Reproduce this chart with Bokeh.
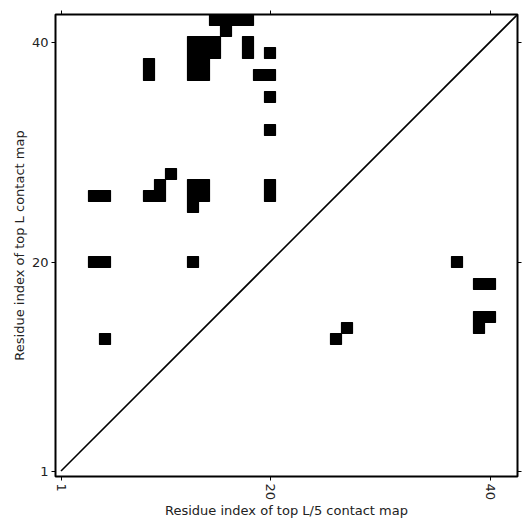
import math
from bokeh.plotting import figure
from bokeh.models import Range1d, LinearAxis, FixedTicker
from bokeh.embed import file_html
from bokeh.resources import INLINE

# contact cells (x residue, y residue)
contact_x = [15, 16, 17, 18, 16, 13, 14, 15, 13, 14, 15, 13, 14, 13, 14, 18, 18, 20,
             9, 9, 19, 20, 20, 20, 11, 10, 9, 10, 4, 5, 13, 13, 14, 14, 13, 20, 20,
             4, 5, 13, 5,
             37, 39, 40, 39, 40, 39, 27, 26]
contact_y = [42, 42, 42, 42, 41, 40, 40, 40, 39, 39, 39, 38, 38, 37, 37, 40, 39, 39,
             38, 37, 37, 37, 35, 32, 28, 27, 26, 26, 26, 26, 27, 26, 27, 26, 25, 27, 26,
             20, 20, 20, 13,
             20, 18, 18, 15, 15, 14, 14, 13]
diag = [1, 42.5]
ticks = [1, 20, 40]

p = figure(width=523, height=523, output_backend="svg", toolbar_location=None,
           x_range=Range1d(0.5, 42.5), y_range=Range1d(0.5, 42.5),
           min_border_left=55, min_border_right=6, min_border_top=14, min_border_bottom=47)
p.grid.visible = False
p.background_fill_color = "white"
p.border_fill_color = "white"
p.outline_line_color = "black"
p.outline_line_width = 2

p.rect(x=contact_x, y=contact_y, width=1, height=1, fill_color="black",
       line_color="black", line_width=1.2)
p.line(diag, diag, line_color="black", line_width=1.6)

font = "DejaVu Sans"
for ax in [p.xaxis[0], p.yaxis[0]]:
    ax.ticker = FixedTicker(ticks=ticks)
    ax.axis_line_color = None
    ax.major_tick_in = 0
    ax.major_tick_out = 4
    ax.minor_tick_line_color = None
    ax.major_label_text_font = font
    ax.major_label_text_font_size = "13px"
    ax.major_label_text_color = "#222222"
    ax.axis_label_text_font = font
    ax.axis_label_text_font_size = "13px"
    ax.axis_label_text_font_style = "normal"
    ax.axis_label_text_color = "#222222"
    ax.major_label_standoff = 3
    ax.axis_label_standoff = 2

p.xaxis[0].axis_label = "Residue index of top L/5 contact map"
p.yaxis[0].axis_label = "Residue index of top L contact map"
p.xaxis[0].major_label_orientation = -math.pi / 2
p.xaxis[0].axis_label_standoff = 0

for loc in ["above", "right"]:
    a = LinearAxis(ticker=FixedTicker(ticks=ticks))
    a.axis_line_color = None
    a.major_tick_in = 0
    a.major_tick_out = 4
    a.minor_tick_line_color = None
    a.major_label_text_font_size = "0px"
    a.major_label_text_color = None
    a.major_label_standoff = 0
    p.add_layout(a, loc)

open("out.html", "w").write(file_html(p, INLINE))
